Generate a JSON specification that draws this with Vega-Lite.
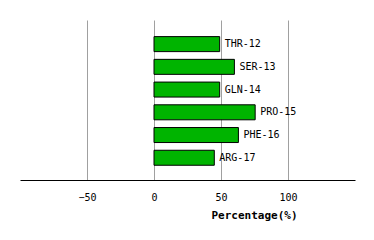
{
  "$schema": "https://vega.github.io/schema/vega-lite/v6.json",
  "width": 335,
  "height": 160,
  "autosize": "none",
  "padding": {"left": 20, "top": 20, "right": 19, "bottom": 60},
  "background": "white",
  "config": {"view": {"stroke": null}},
  "data": {"values": [
    {"residue": "THR-12", "pct": 49},
    {"residue": "SER-13", "pct": 60},
    {"residue": "GLN-14", "pct": 49},
    {"residue": "PRO-15", "pct": 75.5},
    {"residue": "PHE-16", "pct": 63},
    {"residue": "ARG-17", "pct": 45}
  ]},
  "encoding": {
    "y": {"field": "residue", "type": "nominal", "sort": null,
      "scale": {"paddingInner": 0.34, "paddingOuter": 0.69, "align": 0.53},
      "axis": null},
    "x": {"field": "pct", "type": "quantitative",
      "scale": {"domain": [-100, 150], "nice": false, "zero": false},
      "axis": {
        "values": [-50, 0, 50, 100],
        "title": "Percentage(%)",
        "titleFont": "DejaVu Sans Mono",
        "titleFontSize": 11,
        "titleFontWeight": "bold",
        "titleColor": "black",
        "titleX": 234,
        "titleY": 29,
        "titleBaseline": "top",
        "titleAlign": "center",
        "labelFont": "DejaVu Sans Mono",
        "labelFontSize": 10,
        "labelColor": "black",
        "labelPadding": 12,
        "ticks": false,
        "domainColor": "black",
        "domainWidth": 1,
        "grid": true,
        "gridColor": "#a0a0a0",
        "gridWidth": 1
      }}
  },
  "layer": [
    {"mark": {"type": "bar", "fill": "#00b400", "stroke": "black", "strokeWidth": 1}},
    {"mark": {"type": "text", "align": "left", "baseline": "middle", "dx": 5,
      "font": "DejaVu Sans Mono", "fontSize": 10, "color": "black"},
     "encoding": {"text": {"field": "residue"}}}
  ]
}
